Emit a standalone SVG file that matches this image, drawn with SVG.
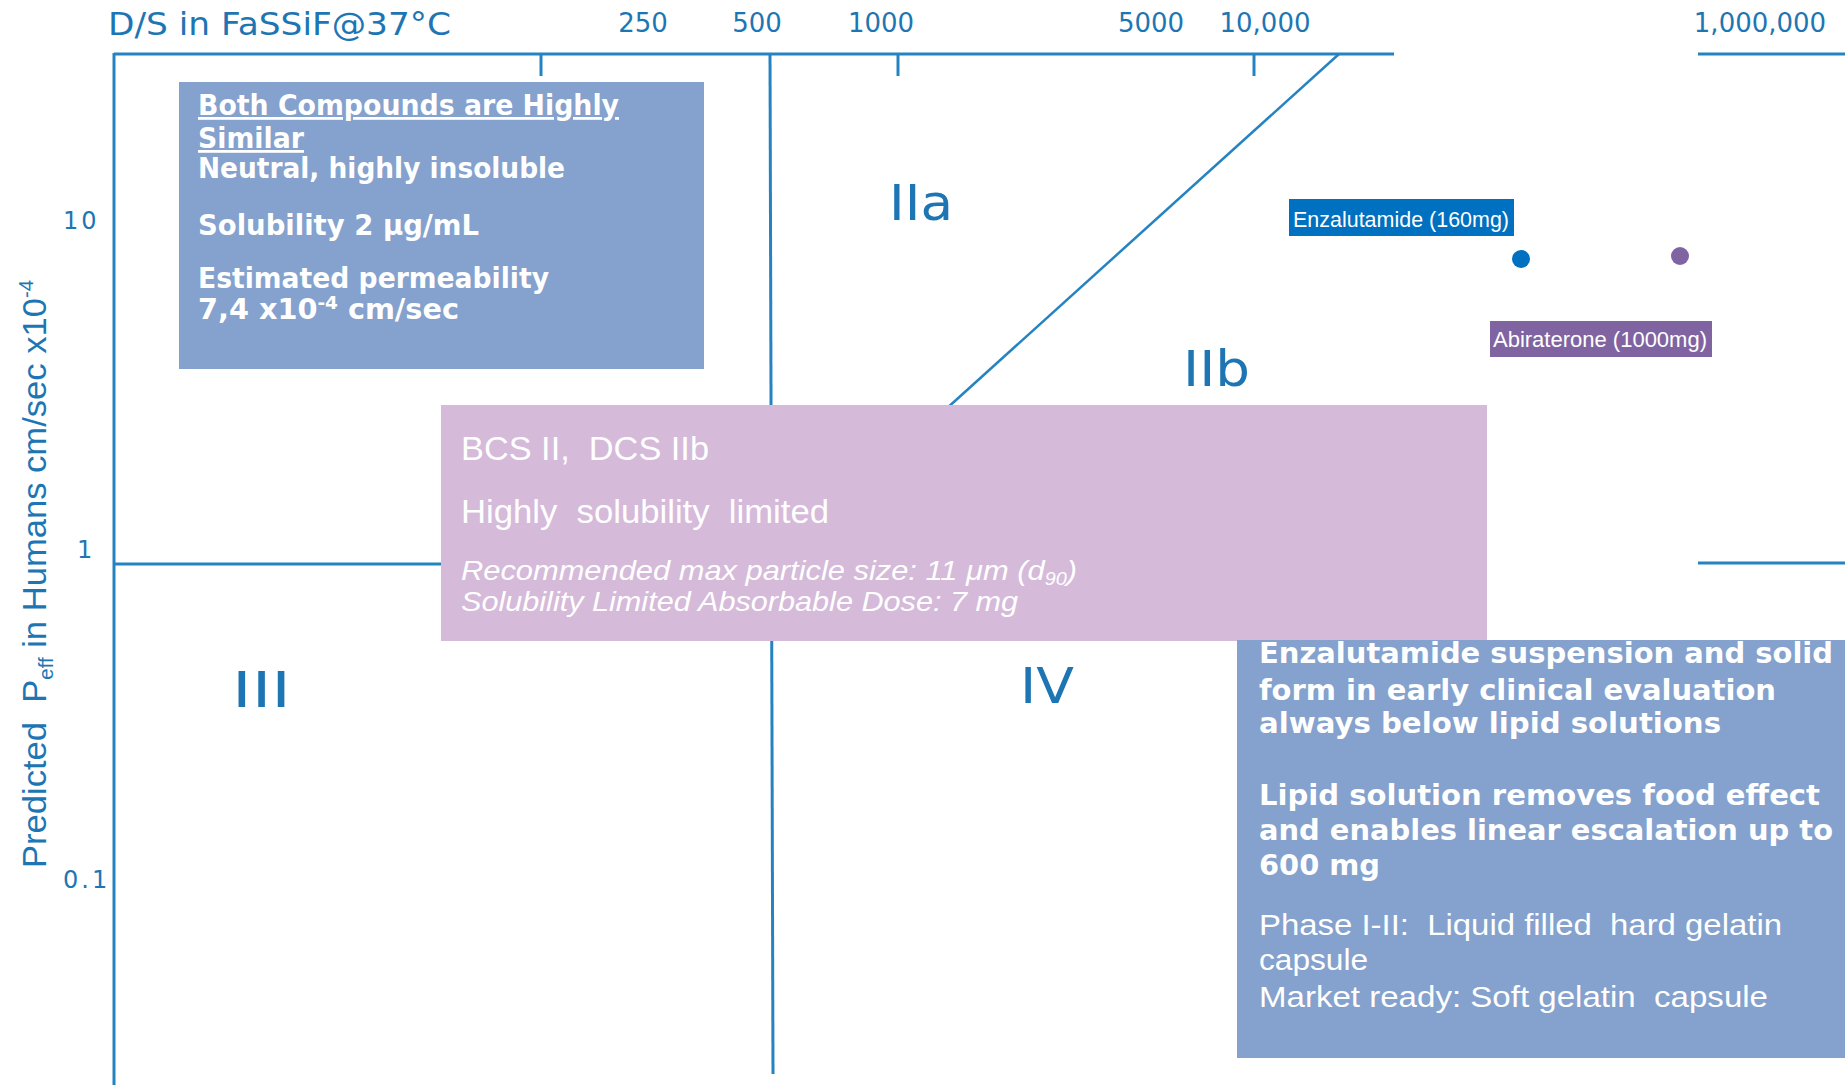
<svg xmlns="http://www.w3.org/2000/svg" width="1845" height="1085" viewBox="0 0 1845 1085">
<style>
.ax{stroke:#2683c1;stroke-width:3;fill:none;stroke-linecap:butt}
.axt{fill:#1d76b3;font-family:"DejaVu Sans",Verdana,sans-serif}
.roman{fill:#1d76b3;font-family:"DejaVu Sans",Verdana,sans-serif;font-size:50px}
.ylab{fill:#1d76b3;font-family:"DejaVu Sans",sans-serif;font-size:24px;letter-spacing:3px}
.wb{fill:#ffffff;font-family:"DejaVu Sans",Verdana,sans-serif;font-weight:bold;font-size:28px;white-space:pre}
.wr{fill:#ffffff;font-family:"Liberation Sans",Arial,sans-serif;font-size:29px;white-space:pre}
.wi{fill:#ffffff;font-family:"Liberation Sans",Arial,sans-serif;font-size:28px;font-style:italic;white-space:pre}
.wp{fill:#ffffff;font-family:"Liberation Sans",Arial,sans-serif;font-size:33px;white-space:pre}
.lab{fill:#ffffff;font-family:"Liberation Sans",Arial,sans-serif;font-size:22px}
.boxb{fill:#84a2cd}
</style>
<rect width="1845" height="1085" fill="#ffffff"/>

<g id="connectors">
  <line class="ax" x1="114" y1="54" x2="1394" y2="54"/>
  <line class="ax" x1="1698" y1="54" x2="1845" y2="54"/>
  <line class="ax" x1="114" y1="53" x2="114" y2="1085"/>
  <line class="ax" x1="541" y1="54" x2="541" y2="76"/>
  <line class="ax" x1="898" y1="54" x2="898" y2="76"/>
  <line class="ax" x1="1254" y1="54" x2="1254" y2="76"/>
  <line class="ax" x1="770" y1="54" x2="773" y2="1074"/>
  <line class="ax" x1="114" y1="564" x2="470" y2="564"/>
  <line class="ax" x1="1698" y1="563" x2="1845" y2="563"/>
  <line class="ax" style="stroke-width:2.5" x1="1339" y1="54" x2="945" y2="410"/>
</g>

<g id="axis-labels">
  <text class="axt" x="108" y="35" font-size="32" textLength="343" lengthAdjust="spacingAndGlyphs">D/S in FaSSiF@37°C</text>
  <text class="axt" x="643" y="32" font-size="26" text-anchor="middle">250</text>
  <text class="axt" x="757" y="32" font-size="26" text-anchor="middle">500</text>
  <text class="axt" x="881" y="32" font-size="26" text-anchor="middle">1000</text>
  <text class="axt" x="1151" y="32" font-size="26" text-anchor="middle">5000</text>
  <text class="axt" x="1265" y="32" font-size="26" text-anchor="middle">10,000</text>
  <text class="axt" x="1760" y="32" font-size="26" text-anchor="middle">1,000,000</text>
  <text class="ylab" x="63" y="229">10</text>
  <text class="ylab" x="77" y="558">1</text>
  <text class="ylab" x="63" y="888">0.1</text>
  <text class="axt" transform="translate(46,868) rotate(-90)" font-size="34" style="font-family:'Liberation Sans',Arial,sans-serif;white-space:pre" textLength="588" lengthAdjust="spacingAndGlyphs">Predicted  P<tspan font-size="20" baseline-shift="-7">eff</tspan> in Humans cm/sec x10<tspan font-size="20" baseline-shift="13">-4</tspan></text>
</g>

<g id="regions">
  <text class="roman" x="889" y="220" textLength="64" lengthAdjust="spacingAndGlyphs">IIa</text>
  <text class="roman" x="1183" y="386" textLength="67" lengthAdjust="spacingAndGlyphs">IIb</text>
  <text class="roman" x="232" y="707" textLength="59" lengthAdjust="spacingAndGlyphs">III</text>
  <text class="roman" x="1020" y="703" textLength="54" lengthAdjust="spacingAndGlyphs">IV</text>
</g>

<g id="compound-info">
  <rect class="boxb" x="179" y="82" width="525" height="287"/>
  <text class="wb" x="198" y="115" textLength="421" lengthAdjust="spacingAndGlyphs" text-decoration="underline">Both Compounds are Highly</text>
  <text class="wb" x="198" y="148" textLength="106" lengthAdjust="spacingAndGlyphs" text-decoration="underline">Similar</text>
  <text class="wb" x="198" y="178" textLength="367" lengthAdjust="spacingAndGlyphs">Neutral, highly insoluble</text>
  <text class="wb" x="198" y="235" textLength="281" lengthAdjust="spacingAndGlyphs">Solubility 2 μg/mL</text>
  <text class="wb" x="198" y="288" textLength="351" lengthAdjust="spacingAndGlyphs">Estimated permeability</text>
  <text class="wb" x="198" y="319" textLength="261" lengthAdjust="spacingAndGlyphs">7,4 x10<tspan font-size="18" baseline-shift="10">-4</tspan> cm/sec</text>
</g>

<g id="enzalutamide">
  <rect x="1289" y="199" width="225" height="37" fill="#0070c0"/>
  <text class="lab" x="1293" y="227" textLength="216" lengthAdjust="spacingAndGlyphs">Enzalutamide (160mg)</text>
  <circle cx="1521" cy="259" r="9" fill="#0070c0"/>
</g>

<g id="abiraterone">
  <circle cx="1680" cy="256" r="9" fill="#8064a2"/>
  <rect x="1490" y="321" width="222" height="36" fill="#8064a2"/>
  <text class="lab" x="1493" y="347" textLength="214" lengthAdjust="spacingAndGlyphs">Abiraterone (1000mg)</text>
</g>

<g id="bcs-dcs">
  <rect x="441" y="405" width="1046" height="236" fill="#d5bada"/>
  <text class="wp" x="461" y="460" textLength="248" lengthAdjust="spacingAndGlyphs">BCS II,  DCS IIb</text>
  <text class="wp" x="461" y="523" textLength="368" lengthAdjust="spacingAndGlyphs">Highly  solubility  limited</text>
  <text class="wi" x="461" y="580" textLength="616" lengthAdjust="spacingAndGlyphs">Recommended max particle size: 11 μm (d<tspan font-size="18" baseline-shift="-5">90</tspan>)</text>
  <text class="wi" x="461" y="611" textLength="557" lengthAdjust="spacingAndGlyphs">Solubility Limited Absorbable Dose: 7 mg</text>
</g>

<g id="formulation">
  <rect class="boxb" x="1237" y="640" width="608" height="418"/>
  <text class="wb" x="1259" y="663" textLength="574" lengthAdjust="spacingAndGlyphs">Enzalutamide suspension and solid</text>
  <text class="wb" x="1259" y="700" textLength="517" lengthAdjust="spacingAndGlyphs">form in early clinical evaluation</text>
  <text class="wb" x="1259" y="733" textLength="462" lengthAdjust="spacingAndGlyphs">always below lipid solutions</text>
  <text class="wb" x="1259" y="805" textLength="561" lengthAdjust="spacingAndGlyphs">Lipid solution removes food effect</text>
  <text class="wb" x="1259" y="840" textLength="574" lengthAdjust="spacingAndGlyphs">and enables linear escalation up to</text>
  <text class="wb" x="1259" y="875" textLength="121" lengthAdjust="spacingAndGlyphs">600 mg</text>
  <text class="wr" x="1259" y="935" textLength="523" lengthAdjust="spacingAndGlyphs">Phase I-II:  Liquid filled  hard gelatin</text>
  <text class="wr" x="1259" y="970" textLength="109" lengthAdjust="spacingAndGlyphs">capsule</text>
  <text class="wr" x="1259" y="1007" textLength="509" lengthAdjust="spacingAndGlyphs">Market ready: Soft gelatin  capsule</text>
</g>
</svg>
